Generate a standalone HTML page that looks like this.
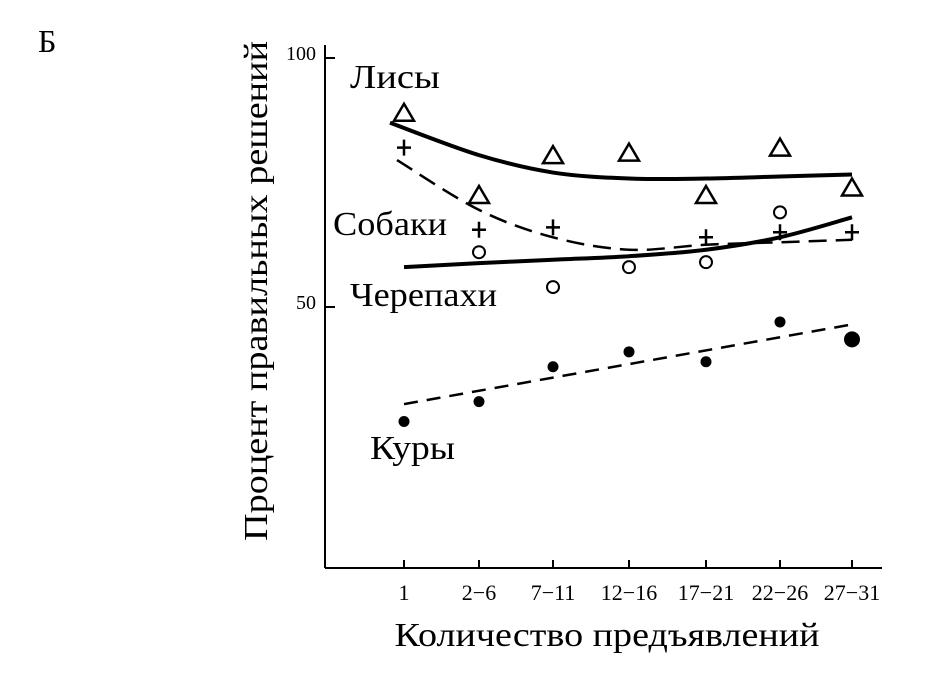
<!DOCTYPE html>
<html><head><meta charset="utf-8"><style>
html,body{margin:0;padding:0;background:#fff;}
svg{display:block;font-family:"Liberation Serif","DejaVu Serif",serif;}
</style></head><body>
<svg id="chart" width="951" height="688" viewBox="0 0 951 688" xmlns="http://www.w3.org/2000/svg">
<text x="38" y="52" font-size="32">Б</text>
<g id="axes"></g>
<g id="marks"></g>
<text x="350" y="88" font-size="34" textLength="90" lengthAdjust="spacingAndGlyphs">Лисы</text>
<text x="333" y="235" font-size="34" textLength="114" lengthAdjust="spacingAndGlyphs">Собаки</text>
<text x="350" y="306" font-size="34" textLength="147" lengthAdjust="spacingAndGlyphs">Черепахи</text>
<text x="370" y="459" font-size="34" textLength="85" lengthAdjust="spacingAndGlyphs">Куры</text>
<text transform="translate(267,291) rotate(-90)" text-anchor="middle" font-size="34" textLength="500" lengthAdjust="spacingAndGlyphs">Процент правильных решений</text>
<text x="607" y="646" text-anchor="middle" font-size="34" textLength="425" lengthAdjust="spacingAndGlyphs">Количество предъявлений</text>
</svg>
<script>
const categories = ["1","2−6","7−11","12−16","17−21","22−26","27−31"];
const yTicks = [100, 50];
const foxPoints = [89, 72.5, 80.5, 81, 72.5, 82, 74];
const foxCurve = [87, 80.5, 77, 75.8, 75.8, 76.2, 76.6];
const dogPoints = [82, 65.5, 66, null, 64, 65, 65];
const dogCurve = [79.5, 69.5, 64, 61.5, 62.5, 63, 63.5];
const turtlePoints = [null, 61, 54, 58, 59, 69, null];
const turtleCurve = [58, 58.8, 59.5, 60.2, 61.5, 64, 68];
const chickenPoints = [27, 31, 38, 41, 39, 47, 43.5];
const chickenLine = [30.5, 46.5];

const NS = "http://www.w3.org/2000/svg";
const xs = [404, 479, 553, 629, 706, 780, 852];
function xPos(i){ return xs[i]; }
function yPos(v){ return 556 - v * 4.98; }
function mk(tag, attrs, parent){
  const e = document.createElementNS(NS, tag);
  for (const k in attrs) e.setAttribute(k, attrs[k]);
  parent.appendChild(e); return e;
}
const axes = document.getElementById("axes");
const marks = document.getElementById("marks");
let el = mk("line",{x1:325,y1:45,x2:325,y2:568,stroke:"#000","stroke-width":2},axes);


el = mk("line",{x1:325,y1:568,x2:882,y2:568,stroke:"#000","stroke-width":2},axes);


yTicks.forEach(v=>{
  const y = yPos(v);
  const t = mk("line",{x1:325,y1:y,x2:335,y2:y,stroke:"#000","stroke-width":2},axes);
  
  
  const l = mk("text",{x:316,y:y+2,"text-anchor":"end","font-size":20},axes);
  l.textContent = v;
  
  
});
categories.forEach((c,i)=>{
  const x = xPos(i);
  const t = mk("line",{x1:x,y1:560,x2:x,y2:568,stroke:"#000","stroke-width":2},axes);
  
  
  const l = mk("text",{x:x,y:600,"text-anchor":"middle","font-size":22},axes);
  l.textContent = c;
  
  
});
function smooth(vals, x0){
  const p = vals.map((v,i)=>[i===0&&x0?x0:xPos(i), yPos(v)]);
  let d = "M"+p[0][0]+","+p[0][1];
  for (let i=0;i<p.length-1;i++){
    const a=p[Math.max(0,i-1)], b=p[i], c=p[i+1], e=p[Math.min(p.length-1,i+2)];
    const c1=[b[0]+(c[0]-a[0])/6, b[1]+(c[1]-a[1])/6];
    const c2=[c[0]-(e[0]-b[0])/6, c[1]-(e[1]-b[1])/6];
    d += " C"+c1[0]+","+c1[1]+" "+c2[0]+","+c2[1]+" "+c[0]+","+c[1];
  }
  return d;
}
el = mk("path",{d:smooth(foxCurve,390),fill:"none",stroke:"#000","stroke-width":4},marks);


el = mk("path",{d:smooth(dogCurve,397),fill:"none",stroke:"#000","stroke-width":2.5,"stroke-dasharray":"18,9"},marks);


el = mk("path",{d:smooth(turtleCurve),fill:"none",stroke:"#000","stroke-width":4},marks);


el = mk("line",{x1:xPos(0),y1:yPos(chickenLine[0]),x2:xPos(6),y2:yPos(chickenLine[1]),stroke:"#000","stroke-width":2.5,"stroke-dasharray":"14,9"},marks);


foxPoints.forEach((v,i)=>{
  if (v==null) return;
  const x=xPos(i), y=yPos(v);
  const t = mk("polygon",{points:`${x},${y-9} ${x+10},${y+8} ${x-10},${y+8}`,fill:"none",stroke:"#000","stroke-width":2.5},marks);
  
  
});
dogPoints.forEach((v,i)=>{
  if (v==null) return;
  const x=xPos(i), y=yPos(v);
  const t = mk("path",{d:`M${x-7},${y}H${x+7}M${x},${y-8}V${y+8}`,stroke:"#000","stroke-width":2.5},marks);
  
  
});
turtlePoints.forEach((v,i)=>{
  if (v==null) return;
  const t = mk("circle",{cx:xPos(i),cy:yPos(v),r:6,fill:"none",stroke:"#000","stroke-width":2},marks);
  
  
});
chickenPoints.forEach((v,i)=>{
  const t = mk("circle",{cx:xPos(i),cy:yPos(v),r:i===6?8:5.5,fill:"#000"},marks);
  
  
});
</script>
</body></html>
